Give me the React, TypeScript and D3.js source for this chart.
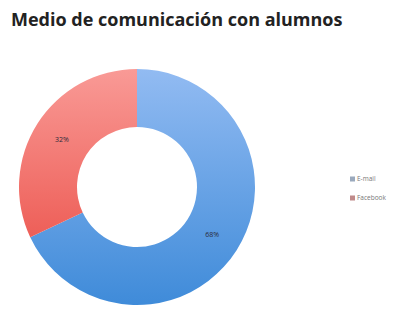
import { useEffect, useRef } from 'react';
import * as d3 from 'd3';

const categories = ['E-mail', 'Facebook'];
const values = [68, 32];
const title = 'Medio de comunicación con alumnos';

const App = () => {
  const svgRef = useRef<SVGSVGElement>(null);

  useEffect(() => {
    const width = 407;
    const height = 314;
    const cx = 137;
    const cy = 187;
    const outerR = 118;
    const innerR = 60;

    const svg = d3.select(svgRef.current);
    svg.selectAll('*').remove();
    svg.attr('width', width).attr('height', height);

    svg.append('rect').attr('width', width).attr('height', height).attr('fill', '#fff');

    // vertical gradients like the old Excel look (local coords of the ring group)
    const defs = svg.append('defs');
    const grads = [
      { id: 'gBlue', top: '#92bbf2', bottom: '#3f8bd9' },
      { id: 'gRed', top: '#f99a96', bottom: '#e9473f' },
    ];
    grads.forEach(g => {
      const lg = defs.append('linearGradient')
        .attr('id', g.id)
        .attr('gradientUnits', 'userSpaceOnUse')
        .attr('x1', 0).attr('y1', -outerR)
        .attr('x2', 0).attr('y2', outerR);
      lg.append('stop').attr('offset', '0%').attr('stop-color', g.top);
      lg.append('stop').attr('offset', '100%').attr('stop-color', g.bottom);
    });

    const color = d3.scaleOrdinal<string, string>()
      .domain(categories)
      .range(['url(#gBlue)', 'url(#gRed)']);
    const swatch = d3.scaleOrdinal<string, string>()
      .domain(categories)
      .range(['#9aa9bd', '#c08a8a']);

    const pie = d3.pie<number>().sort(null).value(d => d);
    const arcs = pie(values);
    const arc = d3.arc<d3.PieArcDatum<number>>().innerRadius(innerR).outerRadius(outerR);

    const g = svg.append('g').attr('transform', `translate(${cx},${cy})`);
    g.selectAll('path')
      .data(arcs)
      .join('path')
      .attr('d', arc)
      .attr('fill', (d, i) => color(categories[i]));

    // percentage labels in the middle of the ring
    const total = d3.sum(values);
    g.selectAll('text')
      .data(arcs)
      .join('text')
      .attr('transform', d => `translate(${arc.centroid(d)})`)
      .attr('text-anchor', 'middle')
      .attr('dy', '0.35em')
      .attr('font-family', 'Open Sans, sans-serif')
      .attr('font-size', 7)
      .attr('fill', '#2a2a3a')
      .text(d => `${Math.round((d.value / total) * 100)}%`);

    // title
    svg.append('text')
      .attr('x', 11)
      .attr('y', 26)
      .attr('font-family', 'Open Sans, sans-serif')
      .attr('font-weight', 'bold')
      .attr('font-size', 18)
      .attr('fill', '#222')
      .text(title);

    // legend
    const legend = svg.append('g').attr('transform', 'translate(350,179)');
    categories.forEach((c, i) => {
      const row = legend.append('g').attr('transform', `translate(0,${i * 19})`);
      row.append('rect')
        .attr('x', 0).attr('y', -2.5)
        .attr('width', 5).attr('height', 5)
        .attr('fill', swatch(c));
      row.append('text')
        .attr('x', 7)
        .attr('dy', '0.35em')
        .attr('font-family', 'Open Sans, sans-serif')
        .attr('font-size', 6.5)
        .attr('fill', '#777')
        .text(c);
    });
  }, []);

  return <svg ref={svgRef} style={{ display: 'block', margin: '-8px' }}></svg>;
};

export default App;
